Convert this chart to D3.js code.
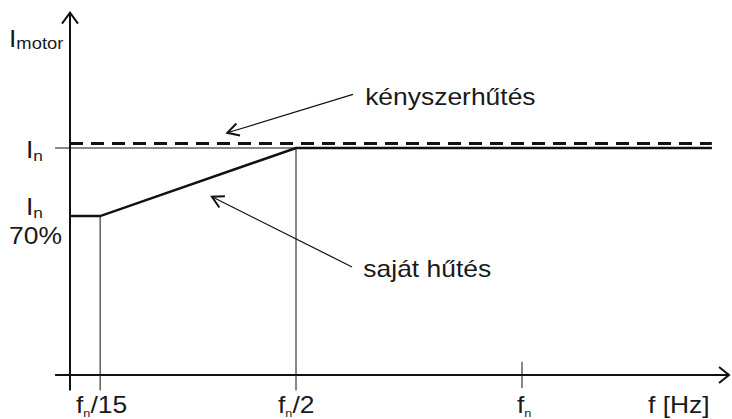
<!DOCTYPE html>
<html>
<head>
<meta charset="utf-8">
<script src="https://cdn.jsdelivr.net/npm/d3@7"></script>
<style>
  html, body { margin: 0; padding: 0; background: #fff; }
  svg { display: block; }
  text { font-family: "Liberation Sans", Arial, sans-serif; fill: #1a1a1a; }
</style>
</head>
<body>
<script>
// ---- data (frequency in units of f_n, current in units of I_n) ----
const xTickValues = [1/15, 1/2, 1];
const xTickBase   = ["f", "f", "f"];
const xTickSub    = ["n", "n", "n"];
const xTickSuffix = ["/15", "/2", ""];
const xAxisTitle  = "f [Hz]";

const selfCoolingX = [0, 1/15, 1/2, 1.42];
const selfCoolingY = [0.7, 0.7, 1, 1];
const forcedCoolingX = [0, 1.42];
const forcedCoolingY = [1.02, 1.02];

const ratedCurrent = 1;
const lowCurrent = 0.7;
const yLabelRated = ["I", "n"];
const yLabelLow = ["I", "n"];
const yLabelLowPct = "70%";
const yAxisTitle = ["I", "motor"];

const forcedLabel = "kényszerhűtés";
const selfLabel = "saját hűtés";

// ---- layout ----
const W = 732, H = 419;
const svg = d3.select("body").append("svg").attr("width", W).attr("height", H);

const x = d3.scaleLinear().domain([0, 1]).range([70, 522]);
const y = d3.scaleLinear().domain([0, 1]).range([375, 148]);

const ink = "#111";
const SX = 1.15; // horizontal text stretch

function label(g, px, py, parts, size, subSize, subDy) {
  // parts: [base, sub, suffix]
  const t = g.append("text")
    .attr("transform", `translate(${px},${py}) scale(${SX},1)`)
    .attr("font-size", size);
  t.append("tspan").text(parts[0]);
  if (parts[1]) t.append("tspan").attr("font-size", subSize).attr("dy", subDy).text(parts[1]);
  if (parts[2]) t.append("tspan").attr("dy", -subDy).text(parts[2]);
  return t;
}

const g = svg.append("g");

// thin rated-current reference line
g.append("line")
  .attr("x1", x(-0.033)).attr("x2", x(1.42))
  .attr("y1", y(ratedCurrent)).attr("y2", y(ratedCurrent))
  .attr("stroke", ink).attr("stroke-width", 1);

// vertical drop lines at f_n/15 and f_n/2
const curve = d3.scaleLinear().domain(selfCoolingX).range(selfCoolingY);
[xTickValues[0], xTickValues[1]].forEach(v => {
  g.append("line")
    .attr("x1", x(v)).attr("x2", x(v))
    .attr("y1", y(curve(v))).attr("y2", y(-0.068))
    .attr("stroke", ink).attr("stroke-width", 1);
});
// short tick at f_n
g.append("line")
  .attr("x1", x(xTickValues[2])).attr("x2", x(xTickValues[2]))
  .attr("y1", y(0.058)).attr("y2", y(-0.058))
  .attr("stroke", ink).attr("stroke-width", 1);

// forced cooling (dashed)
const line = d3.line().x(d => x(d[0])).y(d => y(d[1]));
g.append("path")
  .attr("d", line(d3.zip(forcedCoolingX, forcedCoolingY)))
  .attr("fill", "none").attr("stroke", ink).attr("stroke-width", 3)
  .attr("stroke-dasharray", "13,8");

// self cooling (solid)
g.append("path")
  .attr("d", line(d3.zip(selfCoolingX, selfCoolingY)))
  .attr("fill", "none").attr("stroke", ink).attr("stroke-width", 2.5)
  .attr("stroke-linejoin", "miter");

// axes
g.append("line")
  .attr("x1", x(-0.033)).attr("x2", x(1.458))
  .attr("y1", y(0)).attr("y2", y(0))
  .attr("stroke", ink).attr("stroke-width", 2);
g.append("path")
  .attr("d", `M${x(1.458)-10},${y(0)-8} L${x(1.458)},${y(0)} L${x(1.458)-10},${y(0)+8}`)
  .attr("fill", "none").attr("stroke", ink).attr("stroke-width", 2);
g.append("line")
  .attr("x1", x(0)).attr("x2", x(0))
  .attr("y1", y(-0.068)).attr("y2", y(1.596))
  .attr("stroke", ink).attr("stroke-width", 2);
g.append("path")
  .attr("d", `M${x(0)-8},${y(1.596)+11} L${x(0)},${y(1.596)} L${x(0)+8},${y(1.596)+11}`)
  .attr("fill", "none").attr("stroke", ink).attr("stroke-width", 2);

// annotation arrows
function arrow(x1, y1, x2, y2) {
  g.append("line").attr("x1", x1).attr("y1", y1).attr("x2", x2).attr("y2", y2)
    .attr("stroke", ink).attr("stroke-width", 1.2);
  const a = Math.atan2(y1 - y2, x1 - x2), L = 13, h = 0.5;
  g.append("path")
    .attr("d", `M${x2 + L*Math.cos(a+h)},${y2 + L*Math.sin(a+h)} L${x2},${y2} L${x2 + L*Math.cos(a-h)},${y2 + L*Math.sin(a-h)}`)
    .attr("fill", "none").attr("stroke", ink).attr("stroke-width", 2);
}
arrow(x(0.626), y(1.236), x(0.348), y(1.067));
arrow(x(0.624), y(0.476), x(0.314), y(0.785));

// texts
label(g, x(0.653), y(1.19), [forcedLabel], 23);
label(g, x(0.649), y(0.43), [selfLabel], 23);

label(g, 9, 47, yAxisTitle, 23, 16, 2);
label(g, 26, 158, yLabelRated, 23, 15, 3);
label(g, 26, 215, yLabelLow, 23, 15, 3);
g.append("text").attr("transform", `translate(9,244) scale(${SX},1)`)
  .attr("font-size", 23).text(yLabelLowPct);

const tickX = [76, 278, 517];
xTickValues.forEach((v, i) => {
  label(g, tickX[i], 413, [xTickBase[i], xTickSub[i], xTickSuffix[i]], 23, 11, 4);
});
g.append("text").attr("transform", `translate(648,413) scale(${SX},1)`)
  .attr("font-size", 23).text(xAxisTitle);
</script>
</body>
</html>
